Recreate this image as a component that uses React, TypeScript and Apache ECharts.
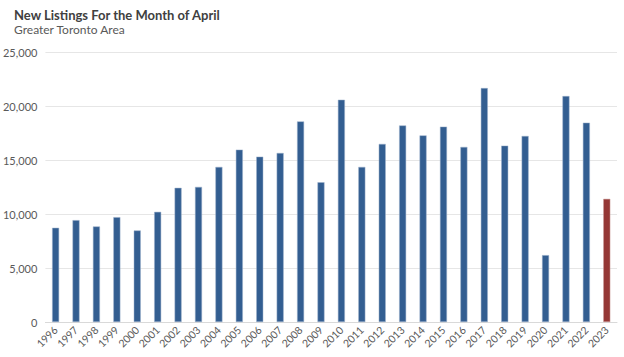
import React, { useEffect, useRef } from "react";
import * as echarts from "echarts";

const years = ["1996","1997","1998","1999","2000","2001","2002","2003","2004","2005","2006","2007","2008","2009","2010","2011","2012","2013","2014","2015","2016","2017","2018","2019","2020","2021","2022","2023"];
const listings = [8725, 9430, 8845, 9705, 8475, 10200, 12420, 12510, 14360, 15960, 15310, 15650, 18575, 12940, 20580, 14360, 16490, 18200, 17280, 18090, 16210, 21660, 16330, 17225, 6190, 20920, 18455, 11400];
const yTicks = [0, 5000, 10000, 15000, 20000, 25000];
const titleText = "New Listings For the Month of April";
const subtitleText = "Greater Toronto Area";

const BLUE = "#335E91";
const RED = "#953735";
const FONT = "Lato";

export default function App() {
  const ref = useRef<HTMLDivElement>(null);
  useEffect(() => {
    if (!ref.current) return;
    const chart = echarts.init(ref.current, undefined, { renderer: "svg" });
    const last = years.length - 1;
    chart.setOption({
      animation: false,
      backgroundColor: "#ffffff",
      title: {
        text: titleText,
        subtext: subtitleText,
        left: 9,
        top: 3,
        itemGap: 2,
        textStyle: { fontFamily: FONT, fontSize: 13, fontWeight: "bold", color: "#404040" },
        subtextStyle: { fontFamily: FONT, fontSize: 12, color: "#595959" },
      },
      grid: { left: 42, right: 7, top: 52, bottom: 35 },
      xAxis: {
        type: "category",
        data: years,
        axisLine: { show: true, lineStyle: { color: "#d9d9d9", width: 1 } },
        axisTick: { show: false },
        axisLabel: {
          rotate: 45,
          interval: 0,
          fontFamily: FONT,
          fontSize: 10.5,
          color: "#595959",
          margin: 6,
        },
      },
      yAxis: {
        type: "value",
        min: yTicks[0],
        max: yTicks[yTicks.length - 1],
        interval: 5000,
        axisLine: { show: false },
        axisTick: { show: false },
        splitLine: { lineStyle: { color: "#e6e6e6", width: 1 } },
        axisLabel: {
          fontFamily: FONT,
          fontSize: 11,
          color: "#595959",
          margin: 8,
          formatter: (v: number) => v.toLocaleString("en-US"),
        },
      },
      series: [
        {
          type: "bar",
          barWidth: 7,
          data: listings.map((v, i) => ({
            value: v,
            itemStyle: {
              color: i === last ? RED : BLUE,
              borderColor: i === last ? "#c99a99" : "#9fb3cc",
              borderWidth: 0.5,
            },
          })),
        },
      ],
    });
    return () => chart.dispose();
  }, []);
  return <div ref={ref} style={{ width: 624, height: 357, position: "absolute", left: 0, top: 0 }} />;
}
